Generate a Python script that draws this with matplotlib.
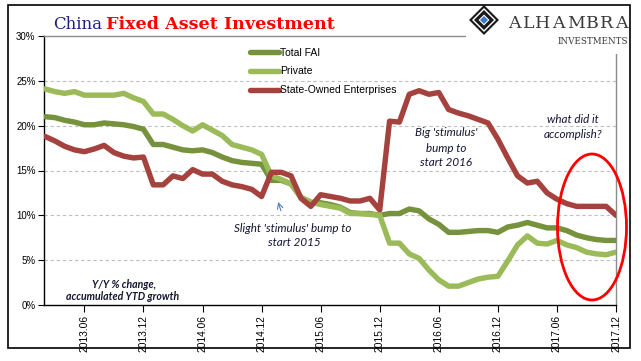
import matplotlib
matplotlib.use("Agg")
import matplotlib.pyplot as plt
from matplotlib.patches import Ellipse, Rectangle, Polygon
import numpy as np

# ---------------- data ----------------
years = [2013, 2014, 2015, 2016, 2017]
months = [f"{y}.{m:02d}" for y in years for m in range(1, 13) if not (y == 2013 and m == 1)]

total_fai = [
    21.0, 20.9, 20.6, 20.4, 20.1, 20.1, 20.3, 20.2, 20.1, 19.9, 19.6,          # 2013 Feb-Dec
    17.9, 17.9, 17.6, 17.3, 17.2, 17.3, 17.0, 16.5, 16.1, 15.9, 15.8, 15.7,    # 2014
    13.9, 13.9, 13.5, 12.0, 11.4, 11.4, 11.2, 10.9, 10.3, 10.2, 10.2, 10.0,    # 2015
    10.2, 10.2, 10.7, 10.5, 9.6, 9.0, 8.1, 8.1, 8.2, 8.3, 8.3, 8.1,            # 2016
    8.7, 8.9, 9.2, 8.9, 8.6, 8.6, 8.3, 7.8, 7.5, 7.3, 7.2, 7.2,                # 2017
]
private = [
    24.1, 23.8, 23.6, 23.8, 23.4, 23.4, 23.4, 23.4, 23.6, 23.1, 22.7,
    21.3, 21.3, 20.7, 20.0, 19.4, 20.1, 19.5, 18.9, 17.9, 17.6, 17.3, 16.8,
    14.4, 14.0, 13.5, 12.0, 11.5, 11.2, 11.0, 10.8, 10.2, 10.2, 10.1, 10.0,
    6.9, 6.9, 5.7, 5.2, 3.9, 2.8, 2.1, 2.1, 2.5, 2.9, 3.1, 3.2,
    4.9, 6.7, 7.7, 6.9, 6.8, 7.2, 6.7, 6.4, 5.9, 5.7, 5.6, 5.9,
]
soe = [
    18.8, 18.3, 17.7, 17.3, 17.1, 17.4, 17.8, 17.0, 16.6, 16.4, 16.5,
    13.4, 13.4, 14.4, 14.1, 15.1, 14.6, 14.6, 13.8, 13.4, 13.2, 12.9, 12.1,
    14.8, 14.8, 14.4, 11.9, 11.0, 12.3, 12.1, 11.9, 11.6, 11.6, 11.9, 10.6,
    20.5, 20.4, 23.5, 23.9, 23.5, 23.7, 21.8, 21.4, 21.1, 20.7, 20.3, 18.5,
    16.4, 14.4, 13.6, 13.8, 12.5, 11.8, 11.3, 11.0, 11.0, 11.0, 11.0, 10.0,
]
series_names = ["Total FAI", "Private", "State-Owned Enterprises"]
series_colors = ["#76923C", "#9BBB59", "#A5423D"]
y_ticks = [0, 5, 10, 15, 20, 25, 30]
x_tick_labels = ["2013.06", "2013.12", "2014.06", "2014.12", "2015.06",
                 "2015.12", "2016.06", "2016.12", "2017.06", "2017.12"]

# ---------------- figure ----------------
W, H = 641, 361
fig = plt.figure(figsize=(W / 100, H / 100), dpi=100)
fig.patch.set_facecolor("white")


def fx(x):
    return x / W


def fy(y):
    return 1 - y / H


ax = fig.add_axes([fx(44), fy(305), fx(616) - fx(44), fy(36) - fy(305)])
x = np.arange(len(months))
for vals, col, name in zip([total_fai, private, soe], series_colors, series_names):
    ax.plot(x, vals, color=col, lw=3.9, solid_joinstyle="round",
            solid_capstyle="round", label=name, zorder=3)

ax.set_xlim(-0.1, len(months) - 1)
ax.set_ylim(0, 30)
ax.set_yticks(y_ticks)
ax.set_yticklabels([f"{v}%" for v in y_ticks])
ax.set_xticks([months.index(l) for l in x_tick_labels])
ax.set_xticklabels(x_tick_labels, rotation=90)
for v in y_ticks[1:-1]:
    ax.axhline(v, color="#BFBFBF", lw=0.8, ls=(0, (3, 2.5)), zorder=1)

for s in ["left", "bottom"]:
    ax.spines[s].set_color("black")
    ax.spines[s].set_linewidth(1.0)
for s in ["top", "right"]:
    ax.spines[s].set_color("#8C8C8C")
    ax.spines[s].set_linewidth(1.0)

ax.tick_params(axis="y", direction="out", length=4, width=0.8, pad=2,
               labelsize=7, colors="black")
ax.tick_params(axis="x", direction="out", length=5, width=0.8, pad=2,
               labelsize=7.4, colors="black")
for lbl in ax.get_xticklabels() + ax.get_yticklabels():
    lbl.set_fontfamily("Liberation Sans")

leg = ax.legend(loc="upper left", bbox_to_anchor=(fx(250), fy(47.5)),
                bbox_transform=fig.transFigure, frameon=False, borderpad=0,
                borderaxespad=0, handlelength=2.75, handletextpad=0.15,
                labelspacing=0.85, prop={"family": "Liberation Sans", "size": 7.5})

# ---------------- annotations ----------------
ann_col = "#141433"
afont = dict(family="Lato", style="italic", size=8.4, color=ann_col, ha="center", va="center")
fig.text(fx(293), fy(228), "Slight 'stimulus' bump to", **afont)
fig.text(fx(294), fy(243), "start 2015", **afont)
fig.text(fx(446), fy(133), "Big 'stimulus'", **afont)
fig.text(fx(446), fy(148), "bump to", **afont)
fig.text(fx(446), fy(163), "start 2016", **afont)
fig.text(fx(573), fy(120), "what did it", **afont)
fig.text(fx(573), fy(134), "accomplish?", **afont)
bfont = dict(family="Lato", style="italic", weight="bold", size=7.6, color=ann_col,
             ha="center", va="center")
fig.text(fx(124), fy(284), "Y/Y % change,", **bfont)
fig.text(fx(123), fy(297), "accumulated YTD growth", **bfont)

fig.add_artist(matplotlib.text.Annotation(
    "", xy=(277.3, H - 199.3), xytext=(281.7, H - 213.3),
    xycoords="figure pixels", textcoords="figure pixels",
    arrowprops=dict(arrowstyle="->,head_length=0.4,head_width=0.2",
                    color="#4F81BD", lw=0.8)))

ell = Ellipse((fx(592), fy(227)), fx(69), 146 / H, transform=fig.transFigure,
              fill=False, edgecolor="#FF0000", lw=2.0, zorder=10)
fig.add_artist(ell)

# ---------------- title ----------------
t1 = fig.text(fx(53), fy(29), "China", family="DejaVu Serif", size=12,
              color="#1F1F80", ha="left", va="baseline")
fig.canvas.draw()
bb = t1.get_window_extent(renderer=fig.canvas.get_renderer())
fig.text((bb.x1 + 4) / W, fy(29), "Fixed Asset Investment", family="DejaVu Serif",
         size=12.6, weight="bold", color="#FF0000", ha="left", va="baseline")

# ---------------- logo ----------------
fig.add_artist(Rectangle((fx(466), fy(54)), fx(628) - fx(466), (54 - 7) / H,
                         transform=fig.transFigure, facecolor="white",
                         edgecolor="none", zorder=5))


def diamond(cx, cy, r, **kw):
    pts = [(fx(cx), fy(cy - r)), (fx(cx + r), fy(cy)), (fx(cx), fy(cy + r)), (fx(cx - r), fy(cy))]
    return Polygon(pts, closed=True, transform=fig.transFigure, zorder=6, **kw)


fig.add_artist(diamond(484, 20, 15, facecolor="#1A1A1A", edgecolor="none"))
fig.add_artist(diamond(484, 20, 12, facecolor="white", edgecolor="none"))
fig.add_artist(diamond(484, 20, 10, facecolor="#1A1A1A", edgecolor="none"))
fig.add_artist(diamond(484, 20, 5.5, facecolor="white", edgecolor="none"))
fig.add_artist(diamond(484, 20, 4, facecolor="#3C78C8", edgecolor="none"))

letters = "ALHAMBRA"
wts = [0.72, 0.61, 0.72, 0.72, 0.89, 0.67, 0.67, 0.72]
x0, x1 = 507, 629
scale = (x1 - x0) / sum(wts)
cur = x0
for ch, w in zip(letters, wts):
    fig.text(fx(cur + w * scale / 2), fy(28), ch, family="DejaVu Serif", size=12.5,
             color="#3A3A3A", ha="center", va="baseline", zorder=8)
    cur += w * scale
fig.text(fx(593), fy(44), "INVESTMENTS", family="DejaVu Serif", size=6.3,
         color="#3A3A3A", ha="center", va="baseline", zorder=8)

# outer border
fig.add_artist(Rectangle((fx(8), fy(348)), fx(630) - fx(8), (348 - 5) / H,
                         transform=fig.transFigure, fill=False,
                         edgecolor="black", lw=1.2, zorder=20))

fig.savefig("out.png", dpi=100)
